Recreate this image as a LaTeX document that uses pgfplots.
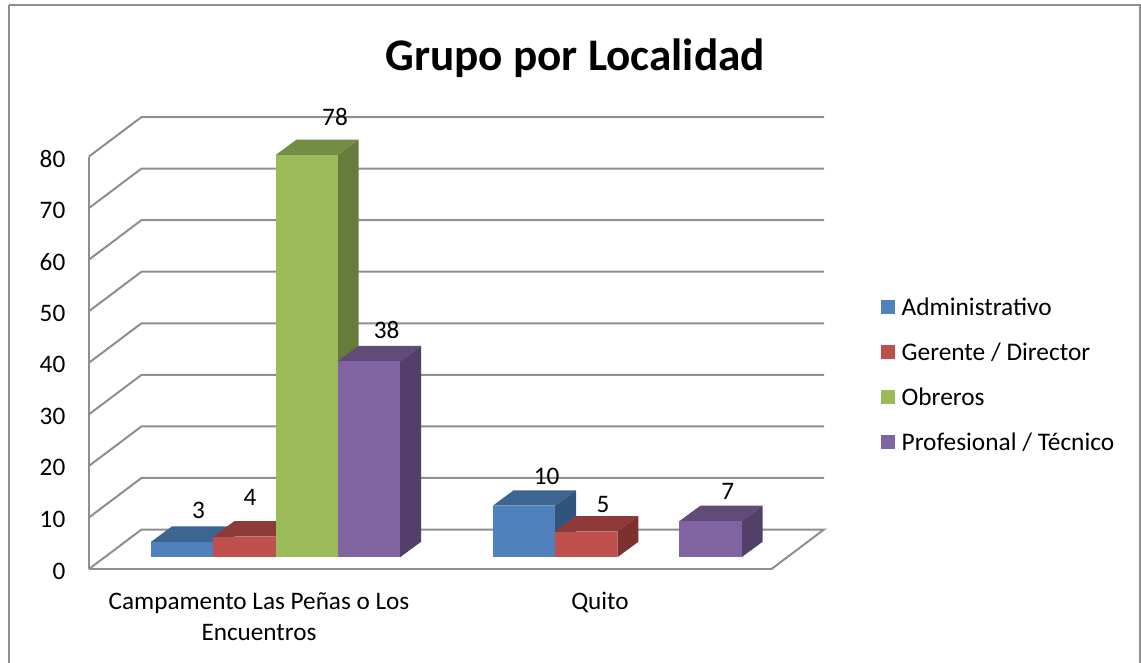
\documentclass[border=0pt]{standalone}
\usepackage{fontspec}
\setmainfont{Carlito}
\usepackage{pgfplots}
\pgfplotsset{compat=1.18}
\newlength{\px}\setlength{\px}{0.75pt}
\definecolor{gl}{HTML}{8E8E8E}
\definecolor{aF}{HTML}{4F81BD}\definecolor{aT}{HTML}{3C6590}\definecolor{aS}{HTML}{31547E}
\definecolor{rF}{HTML}{C0504D}\definecolor{rT}{HTML}{8F3A38}\definecolor{rS}{HTML}{7E302E}
\definecolor{gF}{HTML}{9BBB59}\definecolor{gT}{HTML}{748C43}\definecolor{gS}{HTML}{667C3B}
\definecolor{pF}{HTML}{8064A2}\definecolor{pT}{HTML}{604B79}\definecolor{pS}{HTML}{533F69}
\begin{document}
\begin{tikzpicture}
\useasboundingbox (-89\px,-93\px) rectangle (1052\px,569\px);
\begin{axis}[
  at={(0,0)}, anchor=south west, scale only axis,
  width=682.5\px, height=412.5\px,
  xmin=89, xmax=771.5, ymin=0, ymax=80, clip=false,
  axis x line*=bottom, axis y line*=left,
  axis line style={gl, line width=1.5pt, -},
  xtick={259,600},
  xticklabels={{Campamento Las Peñas o Los\\Encuentros},Quito},
  xticklabel style={align=center, font=\fontsize{18.9}{23.25}\selectfont, yshift=-18.5\px},
  ytick={0,10,...,80},
  major tick length=0pt,
  yticklabel style={font=\fontsize{18.9}{21}\selectfont, xshift=-19\px, yshift=-2\px},
  /pgf/number format/assume math mode=true,
  legend style={draw=none, fill=none, at={(axis cs:881,53.1)}, anchor=north west,
    font=\fontsize{19}{21}\selectfont, row sep=20.1\px, inner sep=0pt, outer sep=0pt},
  legend cell align=left,
  area legend,
  legend image code/.code={\path[#1, draw=none] (0,-18\px) rectangle (14\px,-4\px);\path (18\px,-11\px);},
  gridl/.style={gl, line width=1.5pt, forget plot},
  bar/.style={draw=none, forget plot, yshift=11.7\px},
  barl/.style={draw=none, yshift=11.7\px},
]
% back wall and floor lines
\addplot[gridl] coordinates {(771.5,0)(824,7.66)(141.5,7.66)(89,0)};
\addplot[gridl] coordinates {(89,10)(141.5,17.66)(824,17.66)};
\addplot[gridl] coordinates {(89,20)(141.5,27.66)(824,27.66)};
\addplot[gridl] coordinates {(89,30)(141.5,37.66)(824,37.66)};
\addplot[gridl] coordinates {(89,40)(141.5,47.66)(824,47.66)};
\addplot[gridl] coordinates {(89,50)(141.5,57.66)(824,57.66)};
\addplot[gridl] coordinates {(89,60)(141.5,67.66)(824,67.66)};
\addplot[gridl] coordinates {(89,70)(141.5,77.66)(824,77.66)};
\addplot[gridl] coordinates {(89,80)(141.5,87.66)(824,87.66)};
% Campamento: Administrativo 3
\addplot[bar, fill=aT] coordinates {(151,3)(213.3,3)(234.3,6)(172,6)} -- cycle;
\addplot[bar, fill=aS] coordinates {(213.3,0)(234.3,3)(234.3,6)(213.3,3)} -- cycle;
\addplot[barl, fill=aF] coordinates {(151,0)(213.3,0)(213.3,3)(151,3)} -- cycle;
% Gerente 4
\addplot[bar, fill=rT] coordinates {(213.3,4)(275.5,4)(296.5,7)(234.3,7)} -- cycle;
\addplot[bar, fill=rS] coordinates {(275.5,0)(296.5,3)(296.5,7)(275.5,4)} -- cycle;
\addplot[barl, fill=rF] coordinates {(213.3,0)(275.5,0)(275.5,4)(213.3,4)} -- cycle;
% Obreros 78
\addplot[bar, fill=gT] coordinates {(275.5,78)(337.5,78)(358.5,81)(296.5,81)} -- cycle;
\addplot[bar, fill=gS] coordinates {(337.5,0)(358.5,3)(358.5,81)(337.5,78)} -- cycle;
\addplot[barl, fill=gF] coordinates {(275.5,0)(337.5,0)(337.5,78)(275.5,78)} -- cycle;
% Profesional 38
\addplot[bar, fill=pT] coordinates {(337.5,38)(400,38)(421,41)(358.5,41)} -- cycle;
\addplot[bar, fill=pS] coordinates {(400,0)(421,3)(421,41)(400,38)} -- cycle;
\addplot[barl, fill=pF] coordinates {(337.5,0)(400,0)(400,38)(337.5,38)} -- cycle;
% Quito: Administrativo 10
\addplot[bar, fill=aT] coordinates {(492.7,10)(555,10)(576,13)(513.7,13)} -- cycle;
\addplot[bar, fill=aS] coordinates {(555,0)(576,3)(576,13)(555,10)} -- cycle;
\addplot[bar, fill=aF] coordinates {(492.7,0)(555,0)(555,10)(492.7,10)} -- cycle;
% Gerente 5
\addplot[bar, fill=rT] coordinates {(555,5)(617.3,5)(638.3,8)(576,8)} -- cycle;
\addplot[bar, fill=rS] coordinates {(617.3,0)(638.3,3)(638.3,8)(617.3,5)} -- cycle;
\addplot[bar, fill=rF] coordinates {(555,0)(617.3,0)(617.3,5)(555,5)} -- cycle;
% Profesional 7
\addplot[bar, fill=pT] coordinates {(679.3,7)(741.5,7)(762.5,10)(700.3,10)} -- cycle;
\addplot[bar, fill=pS] coordinates {(741.5,0)(762.5,3)(762.5,10)(741.5,7)} -- cycle;
\addplot[bar, fill=pF] coordinates {(679.3,0)(741.5,0)(741.5,7)(679.3,7)} -- cycle;
\legend{Administrativo,Gerente / Director,Obreros,Profesional / Técnico}
% value labels (x, height of label, value)
\addplot[forget plot, draw=none, mark=none, point meta=explicit symbolic,
  nodes near coords, nodes near coords align={anchor=center},
  every node near coord/.append style={font=\fontsize{18.9}{21}\selectfont, text=black, inner sep=0pt}]
  table[meta=l] {
  x y l
  198.5 11.4 3
  250 13.8 4
  335 87.7 78
  386.7 46.4 38
  546.7 18.0 10
  603 12.6 5
  727.7 15.1 7
};
% frame and title
\draw[gl, line width=1.5pt] (axis cs:9,109.4) -- (axis cs:9,-25);
\draw[gl, line width=1.5pt] (axis cs:9,109.4) -- (axis cs:1139.5,109.4) -- (axis cs:1139.5,-25);
\node[font=\fontsize{33.9}{40}\selectfont\bfseries, inner sep=0pt] at (axis cs:575,99.1) {Grupo por Localidad};
\end{axis}
\end{tikzpicture}
\end{document}
